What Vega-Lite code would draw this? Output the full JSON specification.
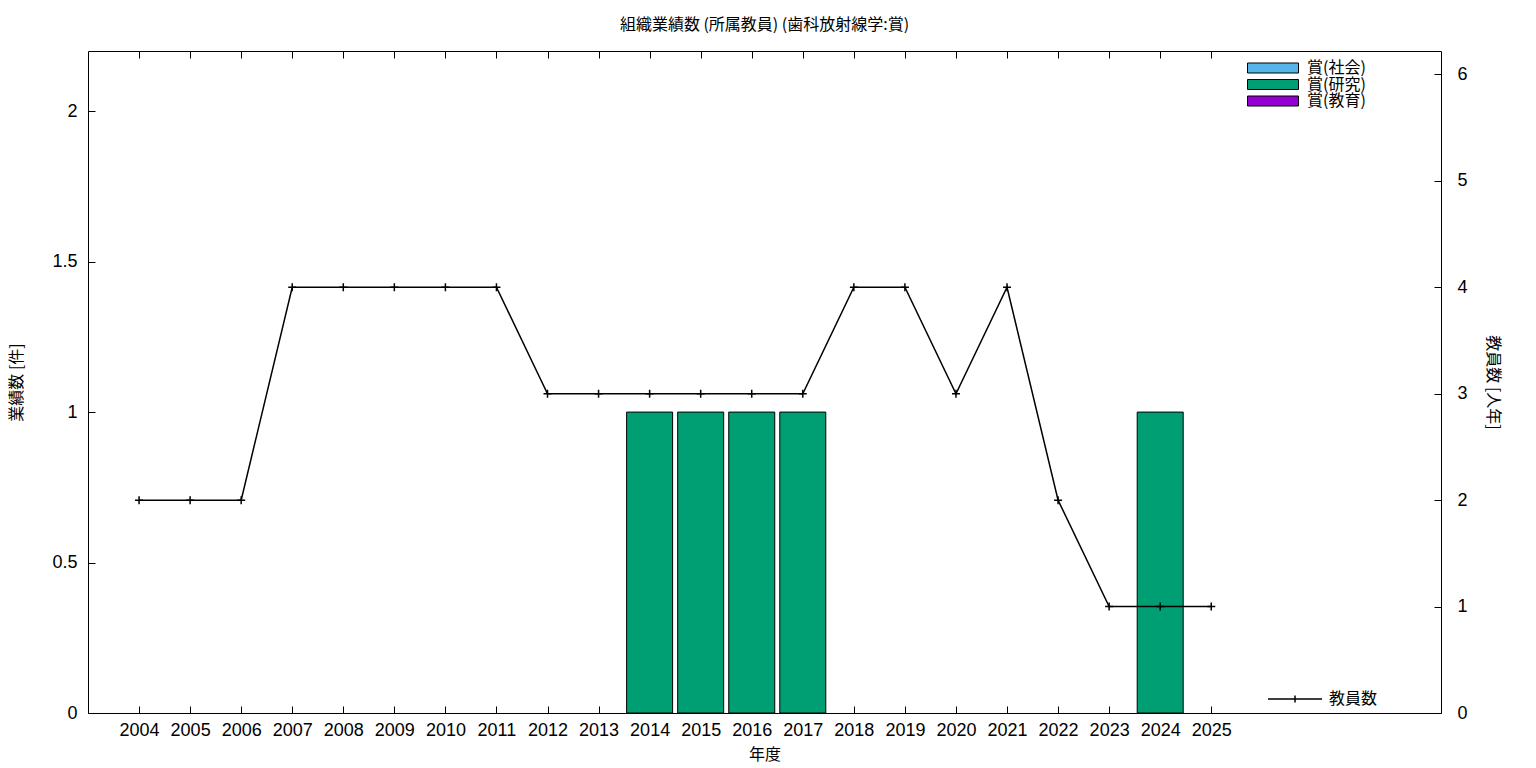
{
  "$schema": "https://vega.github.io/schema/vega-lite/v6.json",
  "width": 1353,
  "height": 662,
  "autosize": {"type": "none"},
  "padding": {"left": 88, "top": 51, "right": 95, "bottom": 55},
  "background": "white",
  "config": {
    "font": "Liberation Sans, Noto Sans CJK JP",
    "view": {"stroke": "black", "strokeWidth": 1},
    "axis": {
      "grid": false,
      "domain": false,
      "tickColor": "black",
      "tickSize": -7,
      "tickWidth": 1,
      "labelColor": "black",
      "labelFontSize": 18,
      "labelFont": "Liberation Sans, Noto Sans CJK JP",
      "titleFont": "Noto Sans CJK JP",
      "titleFontSize": 16,
      "titleFontWeight": "normal",
      "titleColor": "black"
    },
    "legend": {
      "labelFont": "Noto Sans CJK JP",
      "labelFontSize": 16,
      "labelColor": "black"
    }
  },
  "title": {
    "text": "組織業績数 (所属教員) (歯科放射線学:賞)",
    "font": "Noto Sans CJK JP",
    "fontSize": 16,
    "fontWeight": "normal",
    "color": "black",
    "anchor": "middle",
    "offset": 18
  },
  "datasets": {
    "teachers": [
      {"year": 2004, "n": 2}, {"year": 2005, "n": 2}, {"year": 2006, "n": 2},
      {"year": 2007, "n": 4}, {"year": 2008, "n": 4}, {"year": 2009, "n": 4},
      {"year": 2010, "n": 4}, {"year": 2011, "n": 4}, {"year": 2012, "n": 3},
      {"year": 2013, "n": 3}, {"year": 2014, "n": 3}, {"year": 2015, "n": 3},
      {"year": 2016, "n": 3}, {"year": 2017, "n": 3}, {"year": 2018, "n": 4},
      {"year": 2019, "n": 4}, {"year": 2020, "n": 3}, {"year": 2021, "n": 4},
      {"year": 2022, "n": 2}, {"year": 2023, "n": 1}, {"year": 2024, "n": 1},
      {"year": 2025, "n": 1}
    ],
    "awards": [
      {"year": 2014, "type": "賞(研究)", "count": 1},
      {"year": 2015, "type": "賞(研究)", "count": 1},
      {"year": 2016, "type": "賞(研究)", "count": 1},
      {"year": 2017, "type": "賞(研究)", "count": 1},
      {"year": 2024, "type": "賞(研究)", "count": 1}
    ]
  },
  "layer": [
    {
      "data": {"name": "awards"},
      "mark": {"type": "bar", "width": 46, "stroke": "black", "strokeWidth": 1, "opacity": 1},
      "encoding": {
        "x": {
          "field": "year", "type": "quantitative",
          "scale": {"domain": [2003, 2029.5], "nice": false, "zero": false, "padding": 0},
          "axis": {
            "orient": "bottom",
            "values": [2004,2005,2006,2007,2008,2009,2010,2011,2012,2013,2014,2015,2016,2017,2018,2019,2020,2021,2022,2023,2024,2025],
            "format": "d",
            "labelPadding": 15,
            "title": "年度",
            "titlePadding": 7
          }
        },
        "y": {
          "field": "count", "type": "quantitative",
          "scale": {"domain": [0, 2.2], "nice": false},
          "axis": {
            "orient": "left",
            "values": [0, 0.5, 1, 1.5, 2],
            "format": "~g",
            "labelPadding": 18,
            "title": "業績数 [件]",
            "titlePadding": 27
          }
        },
        "color": {
          "field": "type", "type": "nominal",
          "scale": {
            "domain": ["賞(社会)", "賞(研究)", "賞(教育)"],
            "range": ["#56b4e9", "#009e73", "#9400d3"]
          },
          "legend": {
            "title": null,
            "orient": "none",
            "legendX": 1177,
            "legendY": 9,
            "symbolType": "M-5.1,-1H5.1V1H-5.1Z",
            "symbolSize": 100,
            "symbolStrokeColor": "black",
            "symbolStrokeWidth": 1,
            "symbolOpacity": 1,
            "labelOffset": 26,
            "rowPadding": 0.5
          }
        }
      }
    },
    {
      "data": {"name": "teachers"},
      "mark": {"type": "line", "strokeWidth": 1.5},
      "encoding": {
        "x": {"field": "year", "type": "quantitative", "axis": null},
        "y": {
          "field": "n", "type": "quantitative",
          "scale": {"domain": [0, 6.22], "nice": false},
          "axis": {
            "orient": "right",
            "values": [0, 1, 2, 3, 4, 5, 6],
            "labelPadding": 23,
            "title": "教員数 [人年]",
            "titlePadding": 17
          }
        },
        "stroke": {
          "datum": "教員数",
          "type": "nominal",
          "scale": {"range": ["black"]},
          "legend": {
            "title": null,
            "orient": "none",
            "legendX": 1199,
            "legendY": 640,
            "symbolType": "M-5.4,0H5.4M0,-0.7V0.7",
            "symbolSize": 100,
            "symbolStrokeWidth": 1.5,
            "labelOffset": 26
          }
        }
      }
    },
    {
      "data": {"name": "teachers"},
      "mark": {"type": "point", "shape": "M-1,0H1M0,-1V1", "size": 64, "filled": false, "stroke": "black", "strokeWidth": 1.5, "opacity": 1},
      "encoding": {
        "x": {
          "field": "year", "type": "quantitative",
          "axis": {
            "orient": "top",
            "values": [2004,2005,2006,2007,2008,2009,2010,2011,2012,2013,2014,2015,2016,2017,2018,2019,2020,2021,2022,2023,2024,2025],
            "labels": false,
            "title": null
          }
        },
        "y": {
          "field": "n", "type": "quantitative",
          "scale": {"domain": [0, 6.22], "nice": false},
          "axis": null
        }
      }
    }
  ],
  "resolve": {
    "scale": {"y": "independent"},
    "axis": {"x": "independent"}
  }
}
